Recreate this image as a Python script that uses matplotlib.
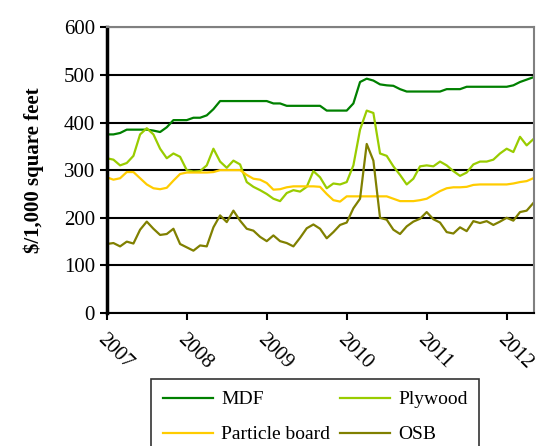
import numpy as np
import matplotlib
matplotlib.use("Agg")
import matplotlib.pyplot as plt

plt.rcParams['font.family'] = ['Liberation Serif', 'DejaVu Serif']

# monthly prices, Jan 2007 - May 2012 ($/1,000 square feet)
mdf = [375, 375, 378, 385, 385, 385, 385, 383, 380, 390,
       405, 405, 405, 410, 410, 415, 428, 445, 445, 445,
       445, 445, 445, 445, 445, 440, 440, 435, 435, 435,
       435, 435, 435, 425, 425, 425, 425, 440, 485, 492,
       488, 480, 478, 477, 470, 465, 465, 465, 465, 465,
       465, 470, 470, 470, 475, 475, 475, 475, 475, 475,
       475, 478, 485, 490, 495]
plywood = [325, 322, 310, 315, 330, 375, 388, 375, 345, 325,
           335, 328, 300, 297, 298, 310, 345, 318, 305, 320,
           312, 275, 265, 258, 250, 240, 235, 252, 258, 255,
           265, 298, 285, 262, 272, 270, 275, 310, 385, 425,
           420, 335, 330, 308, 290, 270, 282, 308, 310, 308,
           318, 310, 298, 288, 295, 312, 318, 318, 322, 335,
           345, 338, 370, 352, 365]
particle = [285, 280, 283, 296, 296, 283, 270, 262, 260, 263,
            278, 292, 295, 295, 295, 295, 296, 300, 300, 300,
            300, 290, 282, 280, 273, 259, 260, 264, 266, 266,
            266, 266, 265, 250, 237, 234, 245, 245, 245, 245,
            245, 245, 245, 240, 235, 235, 235, 237, 240, 248,
            256, 262, 264, 264, 265, 269, 270, 270, 270, 270,
            270, 272, 275, 277, 283]
osb = [145, 147, 140, 150, 146, 175, 192, 177, 164, 166,
       177, 145, 138, 131, 142, 140, 180, 205, 191, 215,
       194, 177, 173, 160, 151, 163, 151, 147, 140, 158,
       178, 186, 177, 157, 170, 185, 190, 220, 240, 355,
       320, 200, 196, 175, 166, 182, 192, 198, 212, 197,
       190, 170, 167, 180, 172, 193, 189, 193, 185, 192,
       200, 194, 212, 215, 231]
years = [2007, 2008, 2009, 2010, 2011, 2012]

t = 2007 + np.arange(len(mdf)) / 12.0

fig = plt.figure(figsize=(5.42, 4.46), dpi=100)
ax = fig.add_axes([0.197, 0.298, 0.788, 0.641])

l_mdf, = ax.plot(t, mdf, color="#008000", lw=1.6, label="MDF")
l_ply, = ax.plot(t, plywood, color="#99CC00", lw=1.6, label="Plywood")
l_pb, = ax.plot(t, particle, color="#FFCC00", lw=1.6, label="Particle board")
l_osb, = ax.plot(t, osb, color="#808000", lw=1.6, label="OSB")

ax.set_xlim(2007, 2012.34)
ax.set_ylim(0, 600)
ax.set_yticks(range(0, 601, 100))
ax.set_xticks(years)
ax.set_xticklabels([str(y) for y in years], rotation=-45, ha="left",
                   va="top", rotation_mode="anchor", fontsize=15)
ax.tick_params(axis="y", labelsize=15, length=5, width=1.5, direction="out")
ax.tick_params(axis="x", length=5, width=1.5, direction="out", pad=7)
ax.grid(axis="y", color="black", lw=1.5)
ax.set_axisbelow(True)

ax.spines["left"].set_linewidth(2.5)
ax.spines["bottom"].set_linewidth(1.5)
for s in ("top", "right"):
    ax.spines[s].set_color("#808080")
    ax.spines[s].set_linewidth(1.5)

ax.set_ylabel("$/1,000 square feet", fontsize=15, fontweight="bold", labelpad=14)

# legend reads row by row: MDF, Plywood / Particle board, OSB
leg = fig.legend([l_mdf, l_pb, l_ply, l_osb],
                 ["MDF", "Particle board", "Plywood", "OSB"],
                 loc="upper left", bbox_to_anchor=(0.279, 0.150),
                 ncol=2, fontsize=14, frameon=True,
                 fancybox=False, edgecolor="black", borderaxespad=0,
                 handlelength=2.6, handletextpad=0.4, labelspacing=0.9,
                 borderpad=0.6, columnspacing=0.5)
leg.get_frame().set_linewidth(1.2)

fig.savefig("out.png", dpi=100)
